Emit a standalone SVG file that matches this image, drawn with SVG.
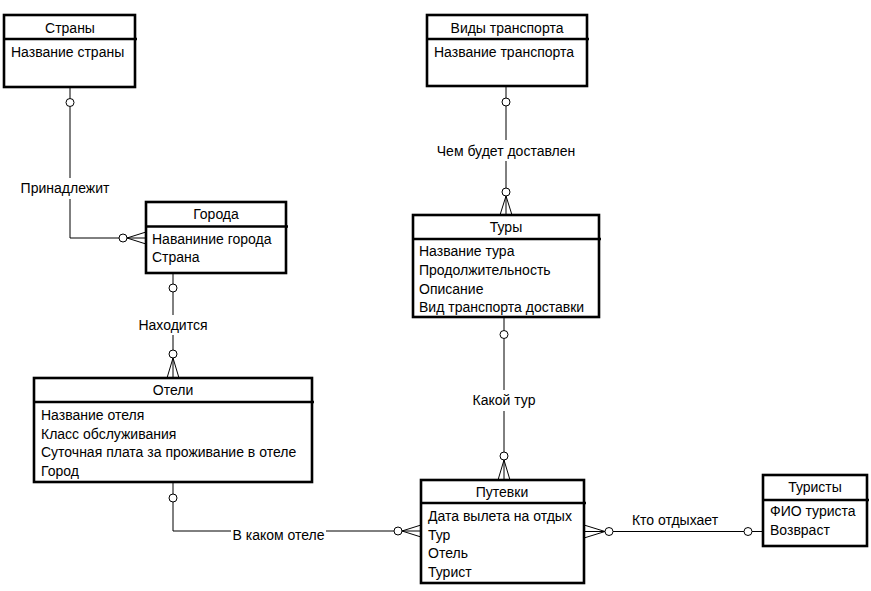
<svg xmlns="http://www.w3.org/2000/svg" width="871" height="591" viewBox="0 0 871 591">
<style>
.box{fill:#fff;stroke:#000;stroke-width:2.6}
.sep{stroke:#000;stroke-width:2.6}
text{font-family:"Liberation Sans",Arial,sans-serif;font-size:14px;fill:#000}
.t{text-anchor:middle}
.c{fill:none;stroke:#000;stroke-width:1}
.o{fill:#fff;stroke:#000;stroke-width:1}
</style>
<rect width="871" height="591" fill="#fff"/>
<g id="connectors">
  <!-- Страны - Города -->
  <path class="c" d="M70,87V98.5M70,107V178M70,199V238H119M127,238L146,232M127,238H146M127,238L146,244"/>
  <circle class="o" cx="70" cy="102.5" r="4"/>
  <circle class="o" cx="123" cy="238" r="4"/>
  <text class="t" x="65" y="193">Принадлежит</text>
  <!-- Виды транспорта - Туры -->
  <path class="c" d="M506,86V98M506,106V140M506,161V188M506,196L500,215M506,196V215M506,196L512,215"/>
  <circle class="o" cx="506" cy="102" r="4"/>
  <circle class="o" cx="506" cy="192" r="4"/>
  <text class="t" x="506" y="156">Чем будет доставлен</text>
  <!-- Туры - Путевки -->
  <path class="c" d="M504,317V330.5M504,338.5V390M504,411V452M504,460L498,480M504,460V480M504,460L510,480"/>
  <circle class="o" cx="504" cy="334.5" r="4"/>
  <circle class="o" cx="504" cy="456" r="4"/>
  <text class="t" x="504" y="405">Какой тур</text>
  <!-- Города - Отели -->
  <path class="c" d="M173,273V284M173,292V315M173,335V350M173,358L167,378M173,358V378M173,358L179,378"/>
  <circle class="o" cx="173" cy="288" r="4"/>
  <circle class="o" cx="173" cy="354" r="4"/>
  <text class="t" x="173" y="330">Находится</text>
  <!-- Отели - Путевки -->
  <path class="c" d="M173,482V494M173,502V531H231M326,531H394M402,531L421,525M402,531H421M402,531L421,537"/>
  <circle class="o" cx="173" cy="498" r="4"/>
  <circle class="o" cx="398" cy="531" r="4"/>
  <text class="t" x="278.5" y="540">В каком отеле</text>
  <!-- Путевки - Туристы -->
  <path class="c" d="M584,525L605,531.5M584,531.5H605M584,538L605,531.5M613,531.5H744M752,531.5H763"/>
  <circle class="o" cx="609" cy="531.5" r="4"/>
  <circle class="o" cx="748" cy="531.5" r="4"/>
  <text class="t" x="675" y="525">Кто отдыхает</text>
</g>
<g id="strany">
  <rect class="box" x="4" y="15" width="131" height="72"/>
  <line class="sep" x1="4" y1="39" x2="137" y2="39"/>
  <text class="t" x="70" y="33">Страны</text>
  <text x="11" y="57">Название страны</text>
</g>
<g id="vidy">
  <rect class="box" x="427" y="15" width="160" height="71"/>
  <line class="sep" x1="427" y1="39" x2="589" y2="39"/>
  <text class="t" x="507" y="33">Виды транспорта</text>
  <text x="434" y="57">Название транспорта</text>
</g>
<g id="goroda">
  <rect class="box" x="146" y="202" width="140" height="71"/>
  <line class="sep" x1="146" y1="226.5" x2="288" y2="226.5"/>
  <text class="t" x="216" y="219">Города</text>
  <text x="152" y="243.5">Наваниние города</text>
  <text x="152" y="262">Страна</text>
</g>
<g id="tury">
  <rect class="box" x="413" y="215" width="186" height="102"/>
  <line class="sep" x1="413" y1="239" x2="601" y2="239"/>
  <text class="t" x="506" y="232">Туры</text>
  <text x="419" y="256">Название тура</text>
  <text x="419" y="275">Продолжительность</text>
  <text x="419" y="293.5">Описание</text>
  <text x="419" y="312">Вид транспорта доставки</text>
</g>
<g id="oteli">
  <rect class="box" x="34" y="378" width="278" height="104"/>
  <line class="sep" x1="34" y1="402" x2="314" y2="402"/>
  <text class="t" x="173" y="395">Отели</text>
  <text x="41" y="419.5">Название отеля</text>
  <text x="41" y="438.5">Класс обслуживания</text>
  <text x="41" y="457">Суточная плата за проживание в отеле</text>
  <text x="41" y="476">Город</text>
</g>
<g id="putevki">
  <rect class="box" x="421" y="480" width="163" height="103"/>
  <line class="sep" x1="421" y1="503" x2="586" y2="503"/>
  <text class="t" x="502" y="497">Путевки</text>
  <text x="428" y="521">Дата вылета на отдых</text>
  <text x="428" y="540">Тур</text>
  <text x="428" y="558">Отель</text>
  <text x="428" y="577">Турист</text>
</g>
<g id="turisty">
  <rect class="box" x="763" y="475" width="104" height="71"/>
  <line class="sep" x1="763" y1="500" x2="869" y2="500"/>
  <text class="t" x="815" y="492">Туристы</text>
  <text x="770" y="516">ФИО туриста</text>
  <text x="770" y="535">Возвраст</text>
</g>
</svg>
